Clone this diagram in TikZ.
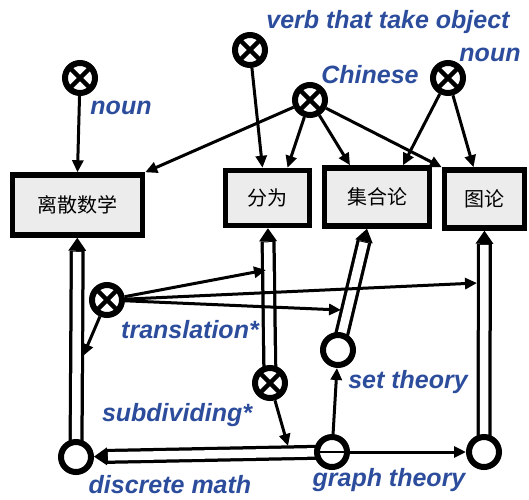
\documentclass[tikz,border=0pt]{standalone}
\usepackage{fontspec}
\setmainfont{Liberation Sans}
\newfontfamily\cjk{Noto Sans CJK SC}
\usepackage{tikz}
\usetikzlibrary{arrows.meta, backgrounds, calc}

\definecolor{labelblue}{RGB}{44,76,156}
\definecolor{boxgray}{RGB}{236,236,236}

% hollow bar with a black head, drawn under the nodes
\newcommand{\hollowbar}[2]{%
  \begin{pgfonlayer}{background}
    \draw[line width=15pt, -{Triangle[length=13pt,width=18pt,line width=0pt]}] (#1.center) -- (#2);
    \draw[line width=8.5pt, white, shorten >=14pt] (#1.center) -- (#2);
  \end{pgfonlayer}
}

\begin{document}
\begin{tikzpicture}[x=1pt, y=-1pt,
    link/.style={line width=3pt, -{Triangle[length=12pt,width=11pt]}},
    box/.style={draw, rectangle, line width=5.5pt, fill=boxgray, minimum height=58pt,
      font=\cjk\fontsize{20}{24}\selectfont,
      path picture={\fill (path picture bounding box.north west) -- ++(13pt,0pt) -- ++(-13pt,-13pt) -- cycle;}},
    ring/.style={draw, circle, line width=6pt, fill=white, minimum size=30pt, inner sep=0pt},
    cross/.style={ring,
      path picture={\draw[line width=4.5pt] (path picture bounding box.north west) -- (path picture bounding box.south east)
        (path picture bounding box.north east) -- (path picture bounding box.south west);}},
    lbl/.style={text=labelblue, font=\fontsize{25}{28}\selectfont\bfseries\itshape, inner sep=0pt}]
    \useasboundingbox (0,0) rectangle (529,499);

    % boxes
    \node [box, minimum width=130pt, minimum height=60pt] (lisan) at (77.5,205) {离散数学};
    \node [box, minimum width=84pt, minimum height=55pt] (fenwei) at (267.5,198) {分为};
    \node [box, minimum width=105pt] (jihe) at (377,197) {集合论};
    \node [box, minimum width=80pt] (tulun) at (484.5,199) {图论};

    % circles
    \node [cross] (nounL) at (80,78) {};
    \node [cross] (verb) at (250,50) {};
    \node [cross] (chinese) at (310,100) {};
    \node [cross] (nounR) at (448,78) {};
    \node [cross] (trans) at (107,300) {};
    \node [cross] (subdiv) at (270,383) {};
    \node [ring] (dmath) at (76,457) {};
    \node [ring, path picture={\draw[line width=2.5pt] (path picture bounding box.west) -- (path picture bounding box.east);}] (graphC) at (332,452) {};
    \node [ring] (setC) at (338,350) {};
    \node [ring] (tulunC) at (484,452) {};

    % labels
    \node [lbl] (verbL) at (388,22) {verb that take object};
    \node [lbl] (nounRL) at (490,55) {noun};
    \node [lbl] (chineseL) at (370,75) {Chinese};
    \node [lbl] (nounLL) at (121,108) {noun};
    \node [lbl] (transL) at (190,330) {translation*};
    \node [lbl] (subdivL) at (177,415) {subdividing*};
    \node [lbl] (dmathL) at (170,485) {discrete math};
    \node [lbl] (setL) at (408,382) {set theory};
    \node [lbl] (graphL) at (389,480) {graph theory};

    % hollow bars
    \hollowbar{dmath}{lisan}
    \hollowbar{subdiv}{fenwei}
    \hollowbar{setC}{[xshift=-10pt]jihe.south}
    \hollowbar{tulunC}{tulun}
    \hollowbar{graphC}{dmath}

    % points on the bars
    \coordinate (dmbar) at (83,356);
    \coordinate (fwbar) at (266,270);
    \coordinate (stbar) at (341,310);
    \coordinate (tlbar) at (477,283);
    \coordinate (gcbar) at (288,446);

    \draw [link] (nounL) -- (lisan.north);
    \draw [link] (verb) -- ([xshift=-5pt]fenwei.north);
    \draw [link] (chinese) -- (lisan.north east);
    \draw [link] (chinese) -- ([xshift=20pt]fenwei.north);
    \draw [link] (chinese) -- ([xshift=-27pt]jihe.north);
    \draw [link] (chinese) -- (tulun.north west);
    \draw [link] (nounR) -- ([xshift=26pt]jihe.north);
    \draw [link] (nounR) -- ([xshift=-11pt]tulun.north);
    \draw [link] (trans) -- (dmbar);
    \draw [link] (trans) -- (fwbar);
    \draw [link] (trans) -- (tlbar);
    \draw [link] (trans) -- (stbar);
    \draw [link] (subdiv) -- (gcbar);
    \draw [link] (graphC) -- (setC);
    \draw [link] (graphC) -- (tulunC);
\end{tikzpicture}
\end{document}
